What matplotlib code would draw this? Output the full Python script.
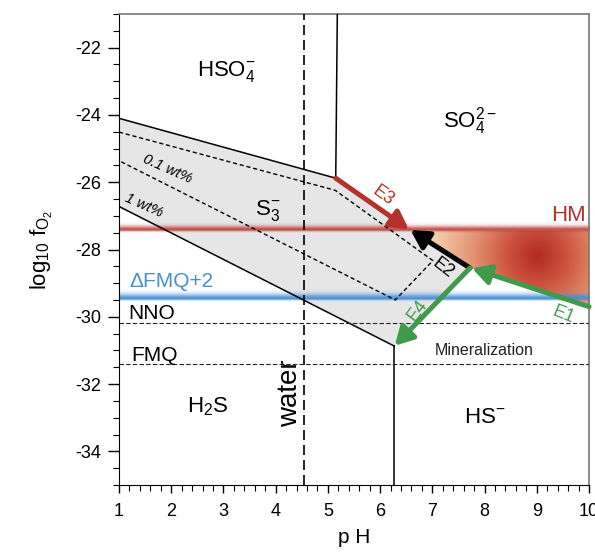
import numpy as np
import matplotlib
matplotlib.use("Agg")
import matplotlib.pyplot as plt
from matplotlib.patches import Polygon
from matplotlib.ticker import MultipleLocator

plt.rcParams.update({
    "font.family": ["Liberation Sans", "DejaVu Sans"],
    "mathtext.fontset": "custom",
    "mathtext.rm": "Liberation Sans",
    "mathtext.it": "Liberation Sans:italic",
    "mathtext.sf": "Liberation Sans",
})

# --- data (pH, log fO2) ---
s3_poly_ph = [1, 5.15, 7.72, 6.27, 1]
s3_poly_fo2 = [-24.1, -25.88, -28.55, -30.87, -26.72]
upper_ph, upper_fo2 = [1, 5.15], [-24.1, -25.88]
hso4_so4_ph, hso4_so4_fo2 = [5.15, 5.18], [-25.88, -21]
lower_ph, lower_fo2 = [1, 6.27], [-26.72, -30.87]
h2s_hs_ph, h2s_hs_fo2 = [6.27, 6.27], [-30.87, -35]
wt01_ph = [1, 5.14, 7.01, 6.29, 1]
wt01_fo2 = [-24.51, -26.24, -28.33, -29.5, -25.36]
water_ph = 4.55
nno_fo2 = -30.18
fmq_fo2 = -31.41
hm_fo2 = -27.43
fmq2_fo2 = -29.47
blob_ph = [6.55, 10, 10, 7.72]
blob_fo2 = [-27.43, -27.43, -29.7, -28.55]
blob_center = (9.0, -28.2)

# arrows: (start, end)
arrows = {
    "E3": ((5.15, -25.88), (6.55, -27.40)),
    "E2": ((7.72, -28.55), (6.58, -27.42)),
    "E1": ((10.0, -29.70), (7.76, -28.56)),
    "E4": ((7.72, -28.55), (6.28, -30.86)),
}
arrow_colors = {"E3": "#b5322a", "E2": "black", "E1": "#3f9b4b", "E4": "#3f9b4b"}

fig = plt.figure(figsize=(5.95, 5.52), dpi=100)
ax = fig.add_axes([0.2, 0.1214, 0.79, 0.8532])
xlim, ylim = (1, 10), (-35, -21)

# S3- field
ax.add_patch(Polygon(np.column_stack([s3_poly_ph, s3_poly_fo2]), closed=True,
                     facecolor="#e6e6e6", edgecolor="none", zorder=1))

# HM radial gradient blob
bx = np.linspace(6.4, 10, 300)
by = np.linspace(-29.8, -27.3, 200)
BX, BY = np.meshgrid(bx, by)
r = np.hypot((BX - blob_center[0]) * 52.2, (BY - blob_center[1]) * 33.5)
stops = [0, 30, 60, 100, 135]
cr = np.interp(r, stops, [0.70, 0.80, 0.88, 0.95, 0.99])
cg = np.interp(r, stops, [0.16, 0.33, 0.55, 0.79, 0.93])
cb = np.interp(r, stops, [0.13, 0.24, 0.42, 0.66, 0.87])
img = np.dstack([cr, cg, cb, np.ones_like(cr)])
blob = Polygon(np.column_stack([blob_ph, blob_fo2]), closed=True,
               facecolor="none", edgecolor="none", zorder=1.5)
ax.add_patch(blob)
im = ax.imshow(img, extent=(6.4, 10, -29.8, -27.3), origin="lower",
               aspect="auto", zorder=1.5, interpolation="bilinear")
im.set_clip_path(blob)


def band(center, color, up, down, amax):
    yy = np.linspace(center - 0.3, center + 0.4, 160)
    a = np.where(yy >= center, np.exp(-((yy - center) / up) ** 2),
                 np.exp(-((yy - center) / down) ** 2)) * amax
    arr = np.zeros((len(yy), 2, 4))
    arr[:, :, :3] = color
    arr[:, :, 3] = a[:, None]
    ax.imshow(arr, extent=(1, 10, yy[0], yy[-1]), origin="lower",
              aspect="auto", zorder=2, interpolation="bilinear")


band(hm_fo2, (0.72, 0.20, 0.18), 0.11, 0.045, 0.85)
band(fmq2_fo2, (0.27, 0.56, 0.84), 0.14, 0.04, 0.95)

# boundaries
kw = dict(color="black", lw=1.1, zorder=3)
ax.plot(upper_ph, upper_fo2, **kw)
ax.plot(hso4_so4_ph, hso4_so4_fo2, **kw)
ax.plot(lower_ph, lower_fo2, **kw)
ax.plot(h2s_hs_ph, h2s_hs_fo2, **kw)
ax.plot(wt01_ph, wt01_fo2, color="black", lw=1.0, ls=(0, (3, 2)), zorder=3)
ax.plot([water_ph, water_ph], ylim, color="black", lw=1.2, ls=(0, (6, 3)), zorder=3)
ax.plot(xlim, [nno_fo2, nno_fo2], color="#222222", lw=0.8, ls=(0, (4, 2)), zorder=3)
ax.plot(xlim, [fmq_fo2, fmq_fo2], color="#222222", lw=0.8, ls=(0, (4, 2)), zorder=3)

for name, (p0, p1) in arrows.items():
    ax.annotate("", xy=p1, xytext=p0, zorder=4,
                arrowprops=dict(arrowstyle="-|>,head_length=0.9,head_width=0.5",
                                color=arrow_colors[name], lw=3.6,
                                mutation_scale=12, shrinkA=0, shrinkB=0))

# labels
ax.text(3.05, -22.72, r"HSO$_4^{-}$", fontsize=16, ha="center", va="center", zorder=5)
ax.text(7.72, -24.18, r"SO$_4^{2-}$", fontsize=16, ha="center", va="center", zorder=5)
ax.text(3.85, -26.85, r"S$_3^{-}$", fontsize=16, ha="center", va="center", zorder=5)
ax.text(2.7, -32.66, r"H$_2$S", fontsize=16, ha="center", va="center", zorder=5)
ax.text(8.0, -32.98, r"HS$^{-}$", fontsize=16, ha="center", va="center", zorder=5)
ax.text(4.27, -32.27, "water", fontsize=20, rotation=90, ha="center", va="center", zorder=5)
ax.text(1.92, -25.6, "0.1 wt%", fontsize=10.5, style="italic", rotation=-24,
        ha="center", va="center", zorder=5)
ax.text(1.48, -26.7, "1 wt%", fontsize=10.5, style="italic", rotation=-24,
        ha="center", va="center", zorder=5)
ax.text(9.6, -27.0, "HM", fontsize=16, color="#b5322a", ha="center", va="center", zorder=5)
ax.text(1.2, -28.95, r"ΔFMQ+2", fontsize=15, color="#4a90cc", ha="left", va="center", zorder=5)
ax.text(1.18, -29.9, "NNO", fontsize=15, ha="left", va="center", zorder=5)
ax.text(1.24, -31.15, "FMQ", fontsize=15, ha="left", va="center", zorder=5)
ax.text(8.0, -30.99, "Mineralization", fontsize=11.5, color="#222222",
        ha="center", va="center", zorder=5)
ax.text(6.06, -26.4, "E3", fontsize=13, color="#b5322a", rotation=-36,
        ha="center", va="center", zorder=5)
ax.text(7.2, -28.55, "E2", fontsize=13, color="black", rotation=-38,
        ha="center", va="center", zorder=5)
ax.text(9.5, -29.95, "E1", fontsize=13, color="#3f9b4b", rotation=-22,
        ha="center", va="center", zorder=5)
ax.text(6.72, -29.8, "E4", fontsize=13, color="#3f9b4b", rotation=53,
        ha="center", va="center", zorder=5)

ax.set_xlim(*xlim)
ax.set_ylim(*ylim)
ax.xaxis.set_major_locator(MultipleLocator(1))
ax.xaxis.set_minor_locator(MultipleLocator(0.2))
ax.yaxis.set_major_locator(MultipleLocator(2))
ax.yaxis.set_minor_locator(MultipleLocator(0.5))
ax.tick_params(which="major", direction="out", width=1, labelsize=13)
ax.tick_params(axis="x", which="major", length=6, pad=7)
ax.tick_params(axis="y", which="major", length=8, pad=5)
ax.tick_params(which="minor", direction="out", length=4, width=0.8)
ax.set_yticks(np.arange(-34, -21, 2))
ax.set_yticklabels([str(v) for v in range(-34, -21, 2)])
ax.set_xlabel("p H", fontsize=15, labelpad=6)
ax.set_ylabel(r"log$_{10}$ f$_{\mathrm{O_2}}$", fontsize=16, labelpad=14)
for s in ["top", "right"]:
    ax.spines[s].set_color("#777777")
    ax.spines[s].set_linewidth(1.2)

fig.savefig("out.png", dpi=100)
